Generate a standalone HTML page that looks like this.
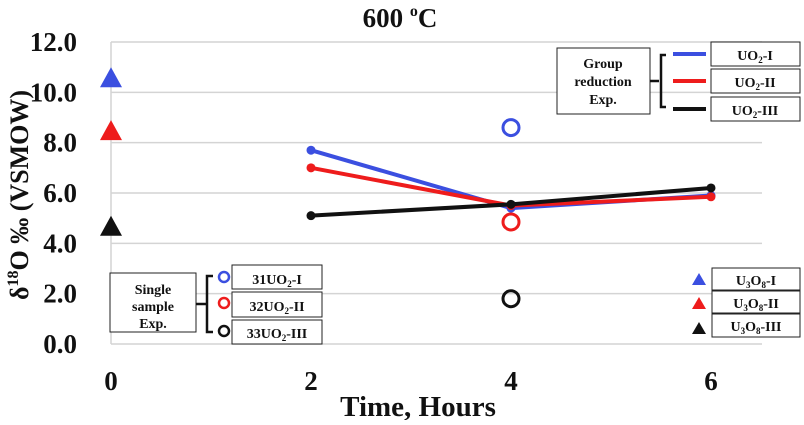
<!DOCTYPE html>
<html><head><meta charset="utf-8"><style>
body{margin:0;background:#fff}
svg text{font-family:"Liberation Serif",serif;font-weight:bold;fill:#111}
</style></head><body>
<svg width="804" height="420" viewBox="0 0 804 420">
<g id="grid"></g>
<g id="ticks"></g>
<text x="400" y="27" text-anchor="middle" font-size="27">600 <tspan font-size="16" dy="-11">o</tspan><tspan dy="11">C</tspan></text>
<text x="418" y="416" text-anchor="middle" font-size="29">Time, Hours</text>
<text transform="translate(28,195) rotate(-90)" text-anchor="middle" font-size="26">δ<tspan font-size="16" dy="-10">18</tspan><tspan dy="10">O ‰ (VSMOW)</tspan></text>
<g id="marks"></g>
<g font-size="14">
<rect x="557" y="48" width="93" height="66" fill="#fff" stroke="#222"/>
<text x="603" y="68" text-anchor="middle" font-size="14">Group</text>
<text x="603" y="86" text-anchor="middle" font-size="14">reduction</text>
<text x="603" y="104" text-anchor="middle" font-size="14">Exp.</text>
<path d="M650 81 H659 M666 55 H661 V107 H666" fill="none" stroke="#111" stroke-width="2.5"/>
<line x1="673" y1="54" x2="706" y2="54" stroke="#3b4fe0" stroke-width="4"/>
<line x1="673" y1="81" x2="706" y2="81" stroke="#ee1c1c" stroke-width="4"/>
<line x1="673" y1="109" x2="706" y2="109" stroke="#111" stroke-width="4"/>
<rect x="711" y="42" width="89" height="24" fill="#fff" stroke="#222"/>
<rect x="711" y="69" width="89" height="24" fill="#fff" stroke="#222"/>
<rect x="711" y="97" width="89" height="24" fill="#fff" stroke="#222"/>
<text x="755" y="60" text-anchor="middle" font-size="14">UO<tspan font-size="9" dy="3">2</tspan><tspan dy="-3">-I</tspan></text>
<text x="755" y="87" text-anchor="middle" font-size="14">UO<tspan font-size="9" dy="3">2</tspan><tspan dy="-3">-II</tspan></text>
<text x="755" y="115" text-anchor="middle" font-size="14">UO<tspan font-size="9" dy="3">2</tspan><tspan dy="-3">-III</tspan></text>
</g>
<g>
<rect x="110" y="273" width="86" height="59" fill="#fff" stroke="#222"/>
<text x="153" y="294" text-anchor="middle" font-size="14">Single</text>
<text x="153" y="311" text-anchor="middle" font-size="14">sample</text>
<text x="153" y="328" text-anchor="middle" font-size="14">Exp.</text>
<path d="M196 304 H206 M213 276 H207 V332 H213" fill="none" stroke="#111" stroke-width="2.5"/>
<circle cx="224" cy="277" r="5" fill="none" stroke="#3b4fe0" stroke-width="2.5"/>
<circle cx="224" cy="303" r="5" fill="none" stroke="#ee1c1c" stroke-width="2.5"/>
<circle cx="224" cy="331" r="5" fill="none" stroke="#111" stroke-width="2.5"/>
<rect x="232" y="265" width="90" height="24" fill="#fff" stroke="#222"/>
<rect x="232" y="292" width="90" height="25" fill="#fff" stroke="#222"/>
<rect x="232" y="320" width="90" height="24" fill="#fff" stroke="#222"/>
<text x="277" y="284" text-anchor="middle" font-size="14">31UO<tspan font-size="9" dy="3">2</tspan><tspan dy="-3">-I</tspan></text>
<text x="277" y="311" text-anchor="middle" font-size="14">32UO<tspan font-size="9" dy="3">2</tspan><tspan dy="-3">-II</tspan></text>
<text x="277" y="338" text-anchor="middle" font-size="14">33UO<tspan font-size="9" dy="3">2</tspan><tspan dy="-3">-III</tspan></text>
</g>
<g>
<path d="M692 285 L699 273 L706 285 Z" fill="#3b4fe0"/>
<path d="M692 309 L699 297 L706 309 Z" fill="#ee1c1c"/>
<path d="M692 334 L699 322 L706 334 Z" fill="#111"/>
<rect x="712" y="268" width="88" height="22" fill="#fff" stroke="#222"/>
<rect x="712" y="291" width="88" height="22" fill="#fff" stroke="#222"/>
<rect x="712" y="314" width="88" height="23" fill="#fff" stroke="#222"/>
<text x="756" y="285" text-anchor="middle" font-size="14">U<tspan font-size="9" dy="3">3</tspan><tspan dy="-3">O</tspan><tspan font-size="9" dy="3">8</tspan><tspan dy="-3">-I</tspan></text>
<text x="756" y="308" text-anchor="middle" font-size="14">U<tspan font-size="9" dy="3">3</tspan><tspan dy="-3">O</tspan><tspan font-size="9" dy="3">8</tspan><tspan dy="-3">-II</tspan></text>
<text x="756" y="331" text-anchor="middle" font-size="14">U<tspan font-size="9" dy="3">3</tspan><tspan dy="-3">O</tspan><tspan font-size="9" dy="3">8</tspan><tspan dy="-3">-III</tspan></text>
</g>
</svg>
<script>
const xTicks=[0,2,4,6];
const yTicks=[0,2,4,6,8,10,12];
const yTickLabels=["0.0","2.0","4.0","6.0","8.0","10.0","12.0"];
const lineHours=[2,4,6];
const uo2I=[7.7,5.4,5.9];
const uo2II=[7.0,5.5,5.85];
const uo2III=[5.1,5.55,6.2];
const u3o8Values=[10.6,8.5,4.7];
const singleValues=[8.6,4.85,1.8];
const singleHour=4;
const colors=["#3b4fe0","#ee1c1c","#111"];
const NS="http://www.w3.org/2000/svg";
const X=h=>111+h*100;
const Y=v=>344-v*(302/12);
function mk(tag,attrs,parent){const e=document.createElementNS(NS,tag);for(const k in attrs)e.setAttribute(k,attrs[k]);parent.appendChild(e);return e;}
const grid=document.getElementById('grid'),ticks=document.getElementById('ticks'),marks=document.getElementById('marks');
yTicks.forEach((v,i)=>{
 const l=mk('line',{x1:X(0),x2:762,y1:Y(v),y2:Y(v),stroke:'#d4d4d4','stroke-width':1.5},grid);
 
 
 const t=mk('text',{x:77,y:Y(v)+9,'text-anchor':'end','font-size':27},ticks);
 t.textContent=yTickLabels[i];
 
 
});
const ax=mk('line',{x1:X(0),x2:X(0),y1:Y(12),y2:Y(0),stroke:'#d4d4d4','stroke-width':1.5},grid);


xTicks.forEach(h=>{
 const t=mk('text',{x:X(h),y:390,'text-anchor':'middle','font-size':27},ticks);
 t.textContent=h;
 
 
});
[uo2I,uo2II,uo2III].forEach((s,i)=>{
 const p=mk('polyline',{points:s.map((v,j)=>X(lineHours[j])+','+Y(v)).join(' '),fill:'none',stroke:colors[i],'stroke-width':4},marks);
 
 
 s.forEach((v,j)=>{
  const c=mk('circle',{cx:X(lineHours[j]),cy:Y(v),r:4.5,fill:colors[i]},marks);
  
  
 });
});
u3o8Values.forEach((v,i)=>{
 const x=X(0),y=Y(v);
 const p=mk('path',{d:`M${x-11} ${y+10} L${x} ${y-10} L${x+11} ${y+10} Z`,fill:colors[i]},marks);
 
 
});
singleValues.forEach((v,i)=>{
 const c=mk('circle',{cx:X(singleHour),cy:Y(v),r:8,fill:'none',stroke:colors[i],'stroke-width':3},marks);
 
 
});
</script>
</body></html>
